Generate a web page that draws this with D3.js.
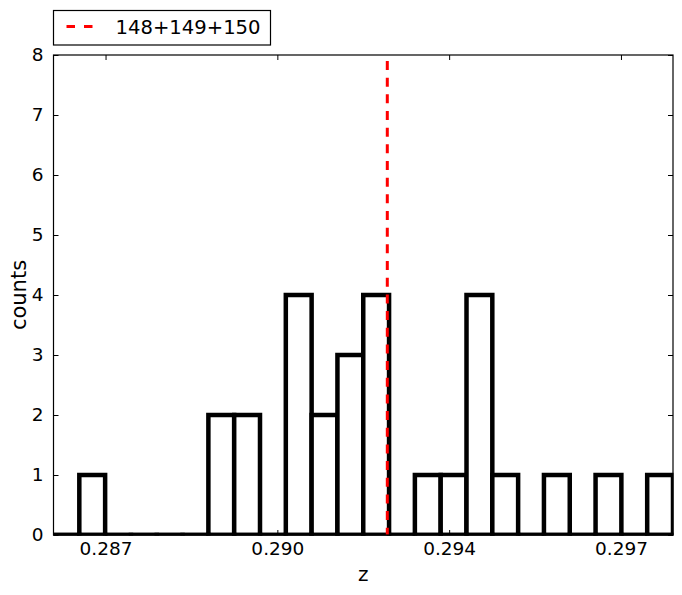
<!DOCTYPE html>
<html><head><meta charset="utf-8">
<script src="https://cdn.jsdelivr.net/npm/d3@7"></script>
<style>body{margin:0;background:#fff}svg{display:block}text{font-family:"DejaVu Sans",sans-serif;fill:#000}</style>
</head><body><svg id="c" width="682" height="595"></svg>
<script>
const histMin = 0.28594, histMax = 0.29856;
const counts = [0,1,0,0,0,0,2,2,0,4,2,3,4,0,1,1,4,1,0,1,0,1,0,1];
const xTicks = [0.2870, 0.2905, 0.2940, 0.2975];
const xTickLabels = ["0.287","0.290","0.294","0.297"];
const yTicks = [0,1,2,3,4,5,6,7,8];
const refZ = 0.29274;
const legendLabel = "148+149+150";

const svg = d3.select("#c");
const L=53.5, R=673, T=55, B=535;
const x = d3.scaleLinear().domain([histMin, histMax]).range([L, R]);
const y = d3.scaleLinear().domain([0, 8]).range([B, T]);
const bw = (histMax - histMin) / counts.length;
const bins = counts.map((c,i)=>({x0: histMin + i*bw, x1: histMin + (i+1)*bw, c}));

svg.append("defs").append("clipPath").attr("id","clip")
  .append("rect").attr("x",L).attr("y",T).attr("width",R-L+0.5).attr("height",B-T+0.6);

const gBars = svg.append("g").attr("clip-path","url(#clip)");
// bars (white fill, thick black edge)
gBars.selectAll("path.bar").data(bins).join("path").attr("class","bar")
  .attr("d",d=>{
    const p = d3.path();
    p.moveTo(x(d.x0), y(0)); p.lineTo(x(d.x0), y(d.c)); p.lineTo(x(d.x1), y(d.c)); p.lineTo(x(d.x1), y(0)); p.closePath();
    return p.toString();
  })
  .attr("fill","#fff").attr("stroke","#000").attr("stroke-width",4.5).attr("stroke-linejoin","miter");
// bottom edges of every bin (zero-count bins show only this edge)
gBars.selectAll("line.base").data(bins).join("line").attr("class","base")
  .attr("x1",d=>x(d.x0)-2.25).attr("x2",d=>x(d.x1)+2.25).attr("y1",y(0)).attr("y2",y(0))
  .attr("stroke","#000").attr("stroke-width",4.5);

// reference line
svg.append("line").attr("x1",x(refZ)).attr("x2",x(refZ)).attr("y1",T).attr("y2",B)
  .attr("stroke","#ff0000").attr("stroke-width",3)
  .attr("stroke-dasharray","9 7.67").attr("stroke-dashoffset",10.67);

// frame
svg.append("rect").attr("x",L).attr("y",T).attr("width",R-L).attr("height",B-T)
  .attr("fill","none").attr("stroke","#000").attr("stroke-width",1.2);

// axes
const xb = d3.axisBottom(x).tickValues(xTicks).tickFormat((d,i)=>xTickLabels[i]).tickSizeInner(-5).tickSizeOuter(0).tickPadding(10);
const gx = svg.append("g").attr("transform",`translate(0,${B})`).call(xb);
const xt = d3.axisTop(x).tickValues(xTicks).tickFormat("").tickSizeInner(-5).tickSizeOuter(0);
const gxt = svg.append("g").attr("transform",`translate(0,${T})`).call(xt);
const yl = d3.axisLeft(y).tickValues(yTicks).tickFormat(d3.format("d")).tickSizeInner(-5).tickSizeOuter(0).tickPadding(10);
const gy = svg.append("g").attr("transform",`translate(${L},0)`).call(yl);
const yr = d3.axisRight(y).tickValues(yTicks).tickFormat("").tickSizeInner(-5).tickSizeOuter(0);
const gyr = svg.append("g").attr("transform",`translate(${R},0)`).call(yr);
[gx,gxt,gy,gyr].forEach(g=>{
  g.select(".domain").remove();
  g.selectAll(".tick line").attr("stroke","#000").attr("stroke-width",1);
  g.selectAll("text").attr("font-size","18.5px").attr("font-family","DejaVu Sans");
});
gx.selectAll("text").attr("dy","0.71em").attr("y",6.5);

svg.append("text").attr("x",(L+R)/2).attr("y",581).attr("text-anchor","middle")
  .attr("font-size","20px").text("z");
svg.append("text").attr("transform",`translate(26,${(T+B)/2}) rotate(-90)`).attr("text-anchor","middle")
  .attr("font-size","21px").text("counts");

// legend
const lg = svg.append("g");
lg.append("rect").attr("x",53.5).attr("y",10.5).attr("width",217).attr("height",34.5)
  .attr("fill","#fff").attr("stroke","#000").attr("stroke-width",1.2);
lg.append("line").attr("x1",66.5).attr("x2",93.5).attr("y1",26.5).attr("y2",26.5)
  .attr("stroke","#ff0000").attr("stroke-width",3).attr("stroke-dasharray","8.5 9");
lg.append("text").attr("x",115.5).attr("y",33.5).attr("font-size","19.6px").text(legendLabel);
</script></body></html>
